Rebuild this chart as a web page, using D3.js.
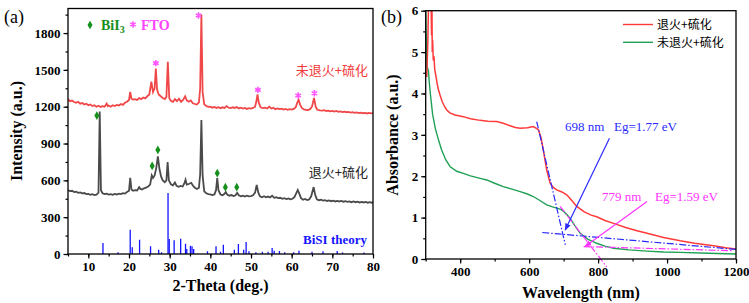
<!DOCTYPE html>
<html>
<head>
<meta charset="utf-8">
<script src="https://cdn.jsdelivr.net/npm/d3@7"></script>
<style>
  body { margin: 0; background: #fff; }
  text { font-family: "Liberation Serif", "Times New Roman", serif; }
  .cjk { font-family: "Noto Sans CJK SC", sans-serif; }
</style>
</head>
<body>
<svg id="chart" width="749" height="303"></svg>
<script>
// ---- panel (a) : XRD ----
var xrdTicksX = [10, 20, 30, 40, 50, 60, 70, 80];
var xrdTicksY = [0, 300, 600, 900, 1200, 1500, 1800];

// 未退火+硫化 (red)
var unannealedXRD = [[5,1262],[5.5,1245],[6,1250],[6.5,1238],[7,1232],[7.5,1240],[8,1225],[8.5,1230],[9,1218],[9.5,1224],
  [10,1212],[10.5,1218],[11,1205],[11.5,1212],[12,1200],[12.5,1208],[13,1198],[13.5,1205],[14,1200],[14.5,1226],[14.8,1205],
  [15,1210],[15.5,1200],[16,1212],[16.5,1205],[17,1215],[17.5,1210],[18,1222],[18.5,1215],[19,1232],[19.5,1240],[20,1255],
  [20.3,1320],[20.6,1265],[21,1258],[21.5,1262],[22,1255],[22.5,1270],[23,1262],[23.5,1275],[24,1268],[24.5,1285],[25,1300],
  [25.5,1405],[25.9,1320],[26.3,1350],[26.6,1510],[26.9,1340],[27.3,1300],[27.8,1285],[28.3,1270],[28.8,1262],[29.2,1280],
  [29.55,1565],[29.9,1270],[30.3,1248],[30.8,1240],[31.3,1262],[31.8,1245],[32.3,1265],[32.8,1240],[33.3,1255],[33.8,1285],
  [34.2,1252],[34.7,1240],[35.2,1250],[35.7,1228],[36.2,1222],[36.7,1218],[37.2,1235],[37.5,1350],[37.8,1950],[38.1,1320],
  [38.5,1220],[39,1205],[39.5,1198],[40,1200],[40.5,1192],[41,1198],[41.5,1190],[42,1196],[42.5,1188],[43,1195],[43.5,1190],
  [44,1205],[44.5,1192],[45,1188],[45.5,1195],[46,1190],[46.5,1198],[47,1186],[47.5,1192],[48,1185],[48.5,1190],[49,1182],
  [49.5,1188],[50,1185],[50.5,1190],[51,1200],[51.3,1240],[51.6,1300],[51.9,1235],[52.3,1198],[52.8,1188],[53.5,1192],
  [54,1185],[54.5,1200],[55,1185],[55.5,1192],[56,1180],[56.5,1186],[57,1180],[57.5,1184],[58,1176],[58.5,1182],[59,1175],
  [59.5,1180],[60,1176],[60.5,1182],[61,1195],[61.3,1225],[61.7,1258],[62.1,1215],[62.5,1190],[63,1178],[63.5,1175],
  [64,1172],[64.5,1180],[65,1200],[65.5,1272],[65.9,1200],[66.3,1175],[67,1170],[67.5,1168],[68,1172],[68.5,1165],[69,1168],
  [69.5,1162],[70,1166],[70.5,1160],[71,1165],[71.5,1158],[72,1162],[72.5,1156],[73,1160],[73.5,1155],[74,1158],[74.5,1152],
  [75,1156],[75.5,1150],[76,1154],[76.5,1148],[77,1152],[77.5,1147],[78,1150],[78.5,1145],[79,1150],[79.5,1146],[80,1148]];

// 退火+硫化 (dark grey)
var annealedXRD = [[5,522],[5.5,512],[6,515],[6.5,505],[7,508],[7.5,498],[8,502],[8.5,494],[9,497],[9.5,488],[10,490],
  [10.5,482],[11,487],[11.5,480],[12,484],[12.5,500],[12.8,1160],[13.1,520],[13.5,495],[14,488],[14.5,492],[15,484],
  [15.5,488],[16,482],[16.5,490],[17,485],[17.5,492],[18,488],[18.5,495],[19,492],[19.5,505],[20,515],[20.3,620],[20.6,525],
  [21,515],[21.5,520],[22,518],[22.5,545],[22.8,530],[23.2,525],[23.7,535],[24.2,540],[24.7,550],[25.2,565],[25.6,640],
  [25.9,620],[26.3,640],[26.7,700],[27.1,795],[27.5,690],[27.9,630],[28.3,600],[28.8,585],[29.2,600],[29.5,750],[29.8,600],
  [30.3,568],[30.8,560],[31.3,582],[31.7,555],[32.2,548],[32.7,555],[33.2,550],[33.6,575],[33.9,605],[34.2,565],[34.7,570],
  [35.3,580],[35.7,558],[36.2,540],[36.7,530],[37.2,540],[37.5,650],[37.8,1092],[38.1,640],[38.5,510],[39,495],[39.5,488],
  [40,485],[40.5,480],[41,485],[41.4,520],[41.7,618],[42,520],[42.5,485],[43,478],[43.5,490],[43.8,505],[44.2,482],[44.7,475],
  [45.2,480],[45.7,472],[46.2,478],[46.6,498],[47,478],[47.5,470],[48,475],[48.5,468],[49,475],[49.5,470],[50,472],[50.5,478],
  [51,500],[51.4,562],[51.8,500],[52.2,470],[52.7,462],[53.2,470],[53.7,462],[54.2,468],[54.7,460],[55.2,475],[55.7,458],
  [56.2,462],[56.7,455],[57.2,458],[57.7,450],[58.2,455],[58.7,448],[59.2,452],[59.7,445],[60.2,450],[60.7,465],[61.2,500],
  [61.5,522],[61.9,490],[62.3,455],[62.8,442],[63.3,448],[63.8,440],[64.3,445],[64.8,470],[65.4,545],[65.8,480],[66.2,445],
  [66.7,438],[67.2,442],[67.7,435],[68.2,438],[68.7,432],[69.2,436],[69.7,430],[70.2,434],[70.7,428],[71.2,433],[71.7,428],
  [72.2,432],[72.7,426],[73.2,430],[73.7,425],[74.2,428],[74.7,422],[75.2,428],[75.7,422],[76.2,426],[76.7,420],[77.2,425],
  [77.7,420],[78.2,424],[78.7,418],[79.2,423],[79.7,418],[80,422]];

// BiSI theory sticks
var bisiPos = [13.6, 17.3, 20.3, 20.8, 22.6, 25.3, 27.3, 28.0, 29.6, 29.9, 31.1, 32.7, 33.9, 34.2, 35.1, 35.5, 35.9,
  39.3, 41.4, 42.5, 43.2, 45.9, 46.9, 48.2, 48.8, 49.5, 51.2, 52.8, 54.2, 55.2, 55.7, 57.0, 58.3, 60.5, 61.8, 65.0,
  67.7, 71.2, 72.5, 77.8];
var bisiInt = [90, 14, 198, 54, 117, 63, 35, 14, 497, 122, 111, 125, 84, 41, 68, 63, 41,
  22, 63, 19, 76, 35, 82, 35, 98, 22, 14, 19, 19, 49, 27, 25, 14, 14, 27, 19,
  22, 25, 12, 12];

// peak markers
var bii3Pos = [12.1, 25.7, 27.1, 41.7, 43.7, 46.5];
var bii3Int = [1128, 717, 848, 658, 544, 544];
var ftoPos = [26.6, 37.1, 51.7, 61.6, 65.6];
var ftoInt = [1555, 1943, 1337, 1291, 1310];

// ---- panel (b) : absorbance ----
var absTicksX = [400, 600, 800, 1000, 1200];
var absTicksY = [0, 1, 2, 3, 4, 5, 6];

// 退火+硫化 (red)
var annealedAbs = [[303,4.4],[306,5.2],[309,6.5],[315,6.5],[317,5.4],[318,6.3],[319,5.0],[320,5.3],[322,4.8],[324,4.9],
  [326,4.6],[328,4.5],[331,4.35],[334,4.2],[337,4.09],[342,3.95],[348,3.8],[355,3.68],[361,3.6],[370,3.53],[385,3.48],
  [409,3.44],[430,3.39],[458,3.35],[480,3.33],[506,3.32],[525,3.28],[545,3.22],[560,3.18],[574,3.16],[595,3.17],
  [612,3.2],[620,3.16],[627,3.12],[634,2.95],[641,2.64],[651,2.15],[661,1.83],[670,1.73],[680,1.67],[695,1.62],[709,1.55],
  [720,1.45],[738,1.27],[760,1.14],[780,1.06],[796,1.02],[820,0.93],[845,0.86],[880,0.76],[910,0.69],[942,0.62],
  [990,0.52],[1038,0.44],[1080,0.38],[1135,0.32],[1170,0.27],[1200,0.24]];

// 未退火+硫化 (green)
var unannealedAbs = [[300,6.2],[301,5.6],[302,5.2],[304,4.65],[306,4.6],[308,4.55],[310,4.3],[314,3.95],[320,3.5],
  [328,3.15],[337,2.88],[346,2.64],[358,2.4],[371,2.23],[390,2.12],[409,2.07],[430,2.01],[458,1.95],[477,1.91],
  [500,1.83],[525,1.75],[550,1.69],[574,1.63],[595,1.57],[612,1.51],[630,1.42],[651,1.31],[668,1.26],[680,1.23],
  [692,1.2],[700,1.15],[710,1.07],[719,0.98],[733,0.8],[748,0.62],[770,0.48],[796,0.38],[820,0.31],[845,0.26],
  [890,0.22],[942,0.19],[990,0.17],[1038,0.16],[1120,0.14],[1200,0.12]];

// Tauc-style tangent lines and arrows
var blueSteep = [[622, 3.32], [705, 0.34]];
var blueFlat = [[638, 0.64], [1203, 0.23]];
var pinkSteep = [[690, 1.27], [825, -0.19]];
var pinkFlat = [[758, 0.30], [1193, 0.20]];
var blueArrow = [[833, 2.92], [704.5, 0.70]];
var pinkArrow = [[942, 1.39], [762, 0.30]];

var svg = d3.select('#chart');

svg.append('defs').html(
  '<clipPath id="clipA"><rect x="68" y="8.5" width="305" height="245.5"></rect></clipPath>' +
  '<clipPath id="clipB"><rect x="425.7" y="10.7" width="310.3" height="248.3"></rect></clipPath>' +
  '<marker id="headBlue" viewBox="0 0 10 10" refX="9" refY="5" markerWidth="6" markerHeight="6" orient="auto">' +
  '<path d="M0,1L10,5L0,9z" fill="#2a2aff"></path></marker>' +
  '<marker id="headPink" viewBox="0 0 10 10" refX="9" refY="5" markerWidth="6" markerHeight="6" orient="auto">' +
  '<path d="M0,1L10,5L0,9z" fill="#ff33ff"></path></marker>');

function drawFrame(g, x, y) {
  g.append('rect')
    .attr('x', x.range()[0]).attr('y', y.range()[1])
    .attr('width', x.range()[1] - x.range()[0])
    .attr('height', y.range()[0] - y.range()[1])
    .attr('fill', 'none').attr('stroke', '#000').attr('stroke-width', 1.3);
}

function drawAxes(g, x, y, xt, yt, xMinor, yMinor) {
  var bottom = y.range()[0], left = x.range()[0];
  var fmt = d3.format('d');
  g.append('g').attr('transform', 'translate(0,' + bottom + ')')
    .call(d3.axisBottom(x).tickValues(xMinor).tickSize(2.5).tickFormat('').tickSizeOuter(0))
    .call(s => s.select('.domain').remove());
  g.append('g').attr('transform', 'translate(0,' + bottom + ')')
    .call(d3.axisBottom(x).tickValues(xt).tickSize(4.5).tickPadding(3).tickFormat(fmt).tickSizeOuter(0))
    .call(s => s.select('.domain').remove());
  g.append('g').attr('transform', 'translate(' + left + ',0)')
    .call(d3.axisLeft(y).tickValues(yMinor).tickSize(2.5).tickFormat('').tickSizeOuter(0))
    .call(s => s.select('.domain').remove());
  g.append('g').attr('transform', 'translate(' + left + ',0)')
    .call(d3.axisLeft(y).tickValues(yt).tickSize(4.5).tickPadding(3).tickFormat(fmt).tickSizeOuter(0))
    .call(s => s.select('.domain').remove());
  g.selectAll('.tick line').attr('stroke-width', 1.2);
  g.selectAll('.tick text')
    .attr('font-family', '"Liberation Serif", "Times New Roman", serif')
    .style('font-family', '"Liberation Serif", "Times New Roman", serif')
    .attr('font-weight', 'bold').attr('font-size', 13).attr('fill', '#000');
}

// ===== panel (a) =====
function buildXRD() {
  var x = d3.scaleLinear().domain([5, 80]).range([68, 373]);
  var y = d3.scaleLinear().domain([0, 2000]).range([254, 8.5]);
  var g = svg.append('g');

  drawAxes(g, x, y, xrdTicksX, xrdTicksY, d3.range(5, 81, 5), d3.range(0, 2000, 150));

  var plot = g.append('g').attr('clip-path', 'url(#clipA)');
  plot.selectAll('.stick').data(bisiPos).enter().append('line')
    .attr('x1', d => x(d)).attr('x2', d => x(d))
    .attr('y1', y(0)).attr('y2', (d, i) => y(bisiInt[i]))
    .attr('stroke', '#1414ff').attr('stroke-width', 1.3);

  var line = d3.line().x(d => x(d[0])).y(d => y(d[1]));
  plot.append('path').datum(annealedXRD).attr('d', line)
    .attr('fill', 'none').attr('stroke', '#4a4a4a').attr('stroke-width', 1.8);
  plot.append('path').datum(unannealedXRD).attr('d', line)
    .attr('fill', 'none').attr('stroke', '#f04848').attr('stroke-width', 1.8);

  var diamond = d3.symbol().type(d3.symbolDiamond).size(22);
  var star = d3.symbol().type(d3.symbolAsterisk).size(28);
  g.selectAll('.bii3').data(bii3Pos).enter().append('path')
    .attr('d', diamond)
    .attr('transform', (d, i) => 'translate(' + [x(d), y(bii3Int[i])] + ')')
    .attr('fill', '#15901a');
  g.selectAll('.fto').data(ftoPos).enter().append('path')
    .attr('d', star)
    .attr('transform', (d, i) => 'translate(' + [x(d), y(ftoInt[i])] + ')')
    .attr('fill', 'none').attr('stroke', '#ff55ff').attr('stroke-width', 1.6);

  // legend
  g.append('path').attr('d', diamond).attr('transform', 'translate(90,25)').attr('fill', '#15901a');
  var bt = g.append('text').attr('x', 101).attr('y', 30)
    .attr('font-size', 14).attr('font-weight', 'bold').attr('fill', '#15901a');
  bt.append('tspan').text('BiI');
  bt.append('tspan').text('3').attr('font-size', 10).attr('dy', 3);
  g.append('path').attr('d', star).attr('transform', 'translate(133,24.5)')
    .attr('fill', 'none').attr('stroke', '#ff55ff').attr('stroke-width', 1.6);
  g.append('text').attr('x', 141).attr('y', 30).text('FTO')
    .attr('font-size', 14).attr('font-weight', 'bold').attr('fill', '#ff44ff');

  g.append('text').attr('class', 'cjk').attr('x', 368).attr('y', 75).attr('text-anchor', 'end')
    .attr('font-size', 13).attr('fill', '#f03a3a').text('未退火+硫化');
  g.append('text').attr('class', 'cjk').attr('x', 368).attr('y', 177).attr('text-anchor', 'end')
    .attr('font-size', 13).attr('fill', '#222').text('退火+硫化');
  g.append('text').attr('x', 367).attr('y', 244).attr('text-anchor', 'end')
    .attr('font-size', 13).attr('font-weight', 'bold').attr('fill', '#1414ff').text('BiSI theory');

  drawFrame(g, x, y);

  g.append('text').attr('x', 220.5).attr('y', 291).attr('text-anchor', 'middle')
    .attr('font-size', 16).attr('font-weight', 'bold').text('2-Theta (deg.)');
  g.append('text').attr('transform', 'translate(22,131) rotate(-90)').attr('text-anchor', 'middle')
    .attr('font-size', 16).attr('font-weight', 'bold').text('Intensity (a.u.)');
  g.append('text').attr('x', 4).attr('y', 23).attr('font-size', 18).text('(a)');
}

// ===== panel (b) =====
function buildAbs() {
  var x = d3.scaleLinear().domain([300, 1200]).range([425.7, 736]);
  var y = d3.scaleLinear().domain([0, 6]).range([259, 10.7]);
  var g = svg.append('g');

  drawAxes(g, x, y, absTicksX, absTicksY, d3.range(300, 1201, 100), d3.range(0, 6.01, 0.5));

  var line = d3.line().x(d => x(d[0])).y(d => y(d[1]));
  var plot = g.append('g').attr('clip-path', 'url(#clipB)');
  plot.append('path').datum(unannealedAbs).attr('d', line)
    .attr('fill', 'none').attr('stroke', '#1fa055').attr('stroke-width', 1.4);
  plot.append('path').datum(annealedAbs).attr('d', line)
    .attr('fill', 'none').attr('stroke', '#ff3a3a').attr('stroke-width', 1.5);

  var dash = '7,2,1.5,2';
  [[blueSteep, '#2a2aff'], [blueFlat, '#2a2aff'], [pinkSteep, '#ff33ff'], [pinkFlat, '#ff33ff']].forEach(function(p) {
    g.append('path').datum(p[0]).attr('d', line)
      .attr('fill', 'none').attr('stroke', p[1]).attr('stroke-width', 1.2).attr('stroke-dasharray', dash);
  });
  g.append('path').datum(blueArrow).attr('d', line)
    .attr('fill', 'none').attr('stroke', '#2a2aff').attr('stroke-width', 1.2).attr('marker-end', 'url(#headBlue)');
  g.append('path').datum(pinkArrow).attr('d', line)
    .attr('fill', 'none').attr('stroke', '#ff33ff').attr('stroke-width', 1.2).attr('marker-end', 'url(#headPink)');

  g.append('text').attr('x', 565).attr('y', 131).attr('font-size', 13).attr('fill', '#2a2aff').text('698 nm');
  g.append('text').attr('x', 614).attr('y', 131).attr('font-size', 13).attr('fill', '#2a2aff').text('Eg=1.77 eV');
  g.append('text').attr('x', 602).attr('y', 201).attr('font-size', 13).attr('fill', '#ff33ff').text('779 nm');
  g.append('text').attr('x', 655).attr('y', 201).attr('font-size', 13).attr('fill', '#ff33ff').text('Eg=1.59 eV');

  // legend
  g.append('line').attr('x1', 623).attr('x2', 653).attr('y1', 24.5).attr('y2', 24.5)
    .attr('stroke', '#ff3a3a').attr('stroke-width', 1.4);
  g.append('text').attr('class', 'cjk').attr('x', 657).attr('y', 28.8).attr('font-size', 12).text('退火+硫化');
  g.append('line').attr('x1', 623).attr('x2', 653).attr('y1', 42.3).attr('y2', 42.3)
    .attr('stroke', '#1fa055').attr('stroke-width', 1.4);
  g.append('text').attr('class', 'cjk').attr('x', 657).attr('y', 46.6).attr('font-size', 12).text('未退火+硫化');

  drawFrame(g, x, y);

  g.append('text').attr('x', 581).attr('y', 298).attr('text-anchor', 'middle')
    .attr('font-size', 16).attr('font-weight', 'bold').text('Wavelength (nm)');
  g.append('text').attr('transform', 'translate(398,135) rotate(-90)').attr('text-anchor', 'middle')
    .attr('font-size', 16).attr('font-weight', 'bold').text('Absorbance (a.u.)');
  g.append('text').attr('x', 381).attr('y', 23).attr('font-size', 18).text('(b)');
}

buildXRD();
buildAbs();
</script>
</body>
</html>
